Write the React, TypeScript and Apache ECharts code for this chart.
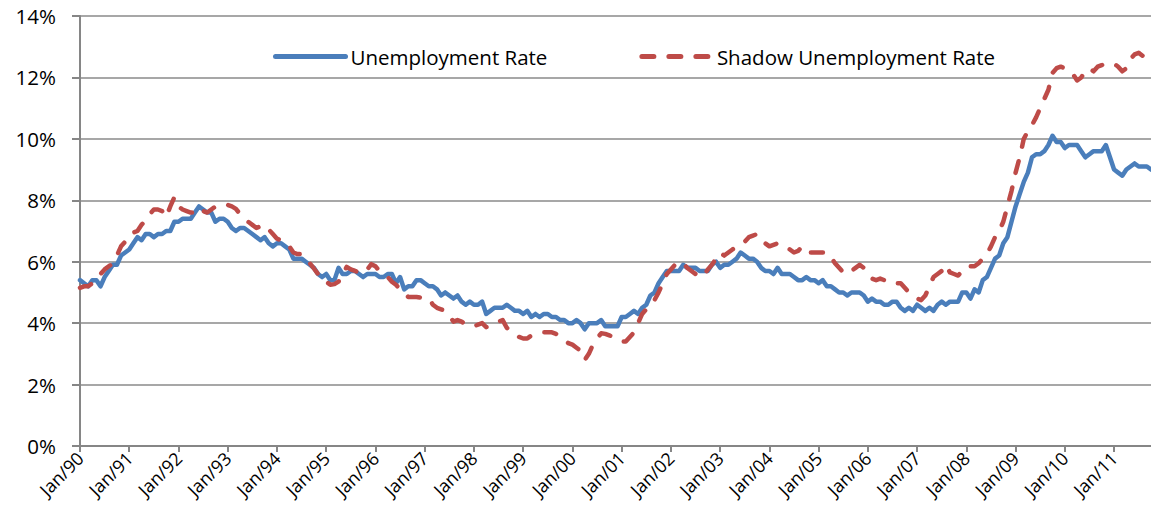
import React, { useEffect, useRef } from "react";
import * as echarts from "echarts";

const monthNames = ["Jan", "Feb", "Mar", "Apr", "May", "Jun", "Jul", "Aug", "Sep", "Oct", "Nov", "Dec"];
const yearLabels = ["90", "91", "92", "93", "94", "95", "96", "97", "98", "99", "00", "01", "02", "03", "04", "05", "06", "07", "08", "09", "10", "11"];
const monthsInLastYear = 10;

const categories: string[] = [];
yearLabels.forEach((yy, i) => {
  const n = i === yearLabels.length - 1 ? monthsInLastYear : 12;
  for (let m = 0; m < n; m++) categories.push(`${monthNames[m]}/${yy}`);
});

// Unemployment Rate (%), monthly Jan 1990 - Oct 2011
const unemploymentRate = [
  5.4, 5.3, 5.2, 5.4, 5.4, 5.2, 5.5, 5.7, 5.9, 5.9, 6.2, 6.3,
  6.4, 6.6, 6.8, 6.7, 6.9, 6.9, 6.8, 6.9, 6.9, 7.0, 7.0, 7.3,
  7.3, 7.4, 7.4, 7.4, 7.6, 7.8, 7.7, 7.6, 7.6, 7.3, 7.4, 7.4,
  7.3, 7.1, 7.0, 7.1, 7.1, 7.0, 6.9, 6.8, 6.7, 6.8, 6.6, 6.5,
  6.6, 6.6, 6.5, 6.4, 6.1, 6.1, 6.1, 6.0, 5.9, 5.8, 5.6, 5.5,
  5.6, 5.4, 5.4, 5.8, 5.6, 5.6, 5.7, 5.7, 5.6, 5.5, 5.6, 5.6,
  5.6, 5.5, 5.5, 5.6, 5.6, 5.3, 5.5, 5.1, 5.2, 5.2, 5.4, 5.4,
  5.3, 5.2, 5.2, 5.1, 4.9, 5.0, 4.9, 4.8, 4.9, 4.7, 4.6, 4.7,
  4.6, 4.6, 4.7, 4.3, 4.4, 4.5, 4.5, 4.5, 4.6, 4.5, 4.4, 4.4,
  4.3, 4.4, 4.2, 4.3, 4.2, 4.3, 4.3, 4.2, 4.2, 4.1, 4.1, 4.0,
  4.0, 4.1, 4.0, 3.8, 4.0, 4.0, 4.0, 4.1, 3.9, 3.9, 3.9, 3.9,
  4.2, 4.2, 4.3, 4.4, 4.3, 4.5, 4.6, 4.9, 5.0, 5.3, 5.5, 5.7,
  5.7, 5.7, 5.7, 5.9, 5.8, 5.8, 5.8, 5.7, 5.7, 5.7, 5.9, 6.0,
  5.8, 5.9, 5.9, 6.0, 6.1, 6.3, 6.2, 6.1, 6.1, 6.0, 5.8, 5.7,
  5.7, 5.6, 5.8, 5.6, 5.6, 5.6, 5.5, 5.4, 5.4, 5.5, 5.4, 5.4,
  5.3, 5.4, 5.2, 5.2, 5.1, 5.0, 5.0, 4.9, 5.0, 5.0, 5.0, 4.9,
  4.7, 4.8, 4.7, 4.7, 4.6, 4.6, 4.7, 4.7, 4.5, 4.4, 4.5, 4.4,
  4.6, 4.5, 4.4, 4.5, 4.4, 4.6, 4.7, 4.6, 4.7, 4.7, 4.7, 5.0,
  5.0, 4.8, 5.1, 5.0, 5.4, 5.5, 5.8, 6.1, 6.2, 6.6, 6.8, 7.3,
  7.8, 8.2, 8.6, 8.9, 9.4, 9.5, 9.5, 9.6, 9.8, 10.1, 9.9, 9.9,
  9.7, 9.8, 9.8, 9.8, 9.6, 9.4, 9.5, 9.6, 9.6, 9.6, 9.8, 9.4,
  9.0, 8.9, 8.8, 9.0, 9.1, 9.2, 9.1, 9.1, 9.1, 9.0,
];

// Shadow Unemployment Rate (%), monthly Jan 1990 - Oct 2011
const shadowUnemploymentRate = [
  5.15, 5.2, 5.2, 5.3, 5.45, 5.6, 5.75, 5.85, 5.95, 6.2, 6.5, 6.65,
  6.85, 6.95, 7.0, 7.2, 7.35, 7.55, 7.7, 7.7, 7.65, 7.45, 7.8, 8.1,
  7.8, 7.7, 7.65, 7.6, 7.6, 7.75, 7.65, 7.6, 7.7, 7.8, 7.85, 7.87,
  7.85, 7.8, 7.72, 7.55, 7.4, 7.3, 7.2, 7.1, 7.15, 7.2, 7.05, 6.9,
  6.75, 6.7, 6.65, 6.5, 6.3, 6.25, 6.25, 6.1, 5.95, 5.78, 5.6, 5.4,
  5.35, 5.25, 5.27, 5.35, 5.6, 5.83, 5.75, 5.7, 5.65, 5.62, 5.75, 5.92,
  5.85, 5.7, 5.6, 5.5, 5.35, 5.25, 5.1, 5.0, 4.85, 4.85, 4.85, 4.83,
  4.83, 4.8, 4.6, 4.5, 4.45, 4.4, 4.25, 4.05, 4.1, 4.05, 3.95, 3.9,
  3.9, 3.95, 4.0, 3.87, 3.95, 4.0, 4.05, 4.1, 3.85, 3.71, 3.65, 3.55,
  3.5, 3.5, 3.6, 3.65, 3.67, 3.7, 3.7, 3.7, 3.65, 3.55, 3.45, 3.35,
  3.3, 3.2, 3.1, 2.8, 3.0, 3.3, 3.5, 3.67, 3.65, 3.6, 3.55, 3.45,
  3.4, 3.4, 3.55, 3.7, 4.0, 4.3, 4.45, 4.6, 4.75, 5.0, 5.3, 5.6,
  5.75, 5.9, 5.85, 5.95, 5.8, 5.7, 5.6, 5.5, 5.55, 5.75, 5.9, 6.1,
  6.3, 6.2, 6.3, 6.4, 6.5, 6.6, 6.65, 6.8, 6.85, 6.9, 6.8, 6.6,
  6.5, 6.55, 6.6, 6.55, 6.5, 6.4, 6.3, 6.35, 6.5, 6.45, 6.3, 6.3,
  6.3, 6.3, 6.3, 6.15, 5.95, 5.8, 5.65, 5.6, 5.7, 5.8, 5.9, 5.8,
  5.6, 5.45, 5.4, 5.45, 5.4, 5.3, 5.3, 5.3, 5.3, 5.15, 5.0, 4.9,
  4.8, 4.75, 4.9, 5.2, 5.5, 5.6, 5.7, 5.9, 5.65, 5.6, 5.55, 5.7,
  5.85, 5.85, 5.85, 5.95, 6.1, 6.25, 6.5, 6.8, 7.0, 7.3, 7.8, 8.3,
  8.9, 9.4, 10.0, 10.25, 10.45, 10.7, 11.0, 11.3, 11.6, 12.15, 12.3, 12.35,
  12.3, 12.25, 12.1, 11.9, 12.0, 12.2, 12.3, 12.2, 12.35, 12.4, 12.45, 12.45,
  12.45, 12.35, 12.2, 12.3, 12.6, 12.75, 12.8, 12.7, 12.55, 12.4,
];

const yMin = 0;
const yMax = 14;
const yStep = 2;

const FONT = "'Open Sans', 'Noto Sans', sans-serif";
const AXIS_GRAY = "#868686";

export default function App() {
  const ref = useRef<HTMLDivElement>(null);

  useEffect(() => {
    document.body.style.margin = "0";
    if (!ref.current) return;
    const chart = echarts.init(ref.current, undefined, { renderer: "svg" });
    chart.setOption({
      animation: false,
      backgroundColor: "#ffffff",
      textStyle: { fontFamily: FONT },
      grid: { left: 80, right: 0, top: 16, bottom: 64, containLabel: false },
      legend: {
        left: 273,
        top: 46,
        padding: 0,
        itemWidth: 70,
        itemHeight: 14,
        itemGap: 92,
        itemStyle: { opacity: 0 },
        lineStyle: { width: 5, cap: "round" },
        textStyle: { fontSize: 20.5, color: "#000000", fontFamily: FONT },
        data: ["Unemployment Rate", "Shadow Unemployment Rate"],
      },
      xAxis: {
        type: "category",
        data: categories,
        boundaryGap: false,
        axisLine: { lineStyle: { color: AXIS_GRAY, width: 2 } },
        axisTick: { show: true, interval: 11, length: 6, lineStyle: { color: AXIS_GRAY, width: 2 } },
        axisLabel: { interval: 11, rotate: 45, fontSize: 18, color: "#000000", margin: 9, fontFamily: FONT },
        splitLine: { show: false },
      },
      yAxis: {
        type: "value",
        min: yMin,
        max: yMax,
        interval: yStep,
        axisLine: { show: true, lineStyle: { color: AXIS_GRAY, width: 2 } },
        axisTick: { show: true, length: 8, lineStyle: { color: AXIS_GRAY, width: 2 } },
        axisLabel: { formatter: "{value}%", fontSize: 20.5, color: "#000000", margin: 24, fontFamily: FONT },
        splitLine: { show: true, lineStyle: { color: "#8a8a8a", width: 1.6 } },
      },
      series: [
        {
          name: "Unemployment Rate",
          type: "line",
          data: unemploymentRate,
          symbol: "none",
          lineStyle: { color: "#4a7ebb", width: 4.5, join: "round", cap: "round" },
          itemStyle: { color: "#4a7ebb" },
        },
        {
          name: "Shadow Unemployment Rate",
          type: "line",
          data: shadowUnemploymentRate,
          symbol: "none",
          lineStyle: { color: "#be4b48", width: 4.5, type: [12, 15], cap: "round", join: "round" },
          itemStyle: { color: "#be4b48" },
        },
      ],
    });
    return () => chart.dispose();
  }, []);

  return <div ref={ref} style={{ width: 1151, height: 510 }} />;
}
